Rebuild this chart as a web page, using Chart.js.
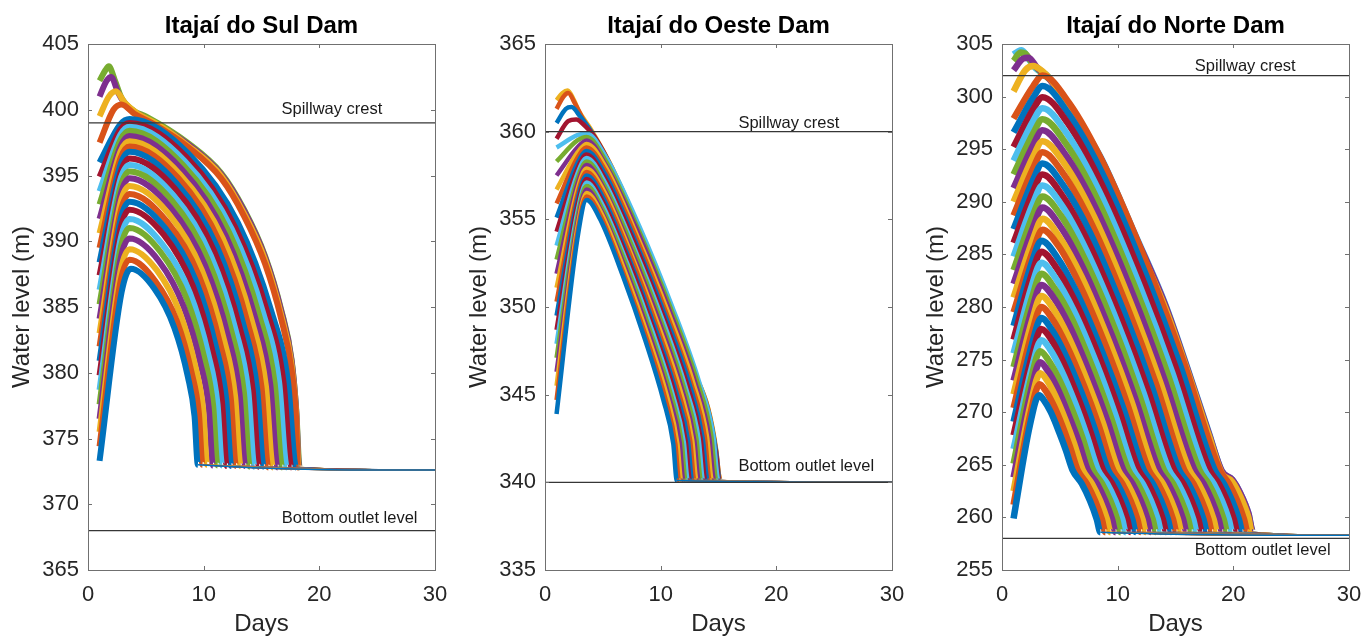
<!DOCTYPE html>
<html lang="en">
<head>
<meta charset="UTF-8">
<title>Dam water levels</title>
<script src="https://cdn.jsdelivr.net/npm/chart.js"></script>
<style>
  body { margin: 0; background: #fff; width: 1363px; height: 639px; overflow: hidden; position: relative; }
  canvas { position: absolute; top: 0; }
</style>
</head>
<body>
<canvas id="sulChart" width="460" height="639" style="left:0px"></canvas>
<canvas id="oesteChart" width="460" height="639" style="left:457px"></canvas>
<canvas id="norteChart" width="460" height="639" style="left:914px"></canvas>
<script>
// each run is a list of [day, water level (m)]
const sulRuns = [
  [[1,373.3],[2.9,386.1],[3.7,387.9],[5.73,386.4],[7.47,383.4],[8.63,379.7],[9.21,376.7],[9.5,373.0],[30,372.6]],
  [[1,374.4],[2.8,386.9],[3.6,388.6],[5.8,387.0],[7.7,383.9],[8.96,380.0],[9.59,376.9],[9.9,373.0],[30,372.6]],
  [[1,375.5],[2.8,387.7],[3.6,389.4],[5.95,387.8],[7.96,384.5],[9.3,380.4],[9.97,377.1],[10.3,373.0],[30,372.6]],
  [[1,376.5],[2.8,388.6],[3.6,390.2],[6.12,388.5],[8.28,385.0],[9.72,380.7],[10.44,377.3],[10.8,372.95],[30,372.6]],
  [[1,377.6],[2.8,389.4],[3.6,391.0],[6.26,389.2],[8.54,385.6],[10.06,381.1],[10.82,377.5],[11.2,372.95],[30,372.6]],
  [[1,378.7],[2.8,390.1],[3.6,391.7],[6.4,389.8],[8.8,386.1],[10.4,381.4],[11.2,377.6],[11.6,372.95],[30,372.6]],
  [[1,379.8],[2.8,390.9],[3.6,392.4],[6.54,390.5],[9.06,386.6],[10.74,381.7],[11.58,377.8],[12.0,372.9],[30,372.6]],
  [[1,380.9],[2.8,391.6],[3.6,393.0],[6.68,391.0],[9.32,387.0],[11.08,381.9],[11.96,377.9],[12.4,372.9],[30,372.6]],
  [[1,382.0],[2.8,392.2],[3.6,393.6],[6.82,391.5],[9.58,387.4],[11.42,382.2],[12.34,378.1],[12.8,372.9],[30,372.6]],
  [[1,383.0],[2.8,392.9],[3.6,394.2],[6.96,392.1],[9.84,387.8],[11.76,382.5],[12.72,378.2],[13.2,372.9],[30,372.6]],
  [[1,384.1],[2.8,393.5],[3.6,394.8],[7.1,392.6],[10.1,388.2],[12.1,382.8],[13.1,378.4],[13.6,372.9],[30,372.6]],
  [[1,385.2],[2.8,394.1],[3.6,395.3],[7.24,393.1],[10.36,388.6],[12.44,383.0],[13.48,378.5],[14.0,372.85],[30,372.6]],
  [[1,386.3],[2.8,394.7],[3.6,395.8],[7.38,393.5],[10.62,388.9],[12.78,383.2],[13.86,378.6],[14.4,372.85],[30,372.6]],
  [[1,387.4],[2.8,395.2],[3.6,396.3],[7.52,394.0],[10.88,389.3],[13.12,383.4],[14.24,378.7],[14.8,372.85],[30,372.6]],
  [[1,388.4],[2.8,395.8],[3.6,396.8],[7.66,394.4],[11.14,389.6],[13.46,383.6],[14.62,378.8],[15.2,372.85],[30,372.6]],
  [[1,389.5],[2.8,396.3],[3.6,397.2],[7.8,394.8],[11.4,389.9],[13.8,383.8],[15.0,378.9],[15.6,372.8],[30,372.6]],
  [[1,390.6],[2.8,396.8],[3.6,397.6],[7.94,395.1],[11.66,390.2],[14.14,384.0],[15.38,379.0],[16.0,372.8],[30,372.6]],
  [[1,391.7],[2.8,397.2],[3.6,398.0],[8.08,395.5],[11.92,390.4],[14.48,384.1],[15.76,379.1],[16.4,372.8],[30,372.6]],
  [[1,392.8],[2.8,397.7],[3.6,398.4],[8.22,395.8],[12.18,390.7],[14.82,384.3],[16.14,379.2],[16.8,372.8],[30,372.6]],
  [[1,393.8],[2.8,398.1],[3.6,398.7],[8.36,396.1],[12.44,390.9],[15.16,384.5],[16.52,379.3],[17.2,372.8],[30,372.6]],
  [[1,394.9],[2.8,398.5],[3.6,399.0],[8.5,396.4],[12.7,391.1],[15.5,384.6],[16.9,379.3],[17.6,372.8],[30,372.6]],
  [[1,396.0],[2.8,398.9],[3.6,399.3],[8.64,396.7],[12.96,391.4],[15.84,384.7],[17.28,379.4],[18.0,372.8],[30,372.6]],
  [[1,397.5],[2.2,400.0],[2.9,400.4],[4,399.7],[5.5,399.0],[8.6,397.2],[11.5,394.8],[13.5,391.9],[15.3,388.3],[16.7,384.1],[17.6,380.2],[18.0,376.4],[18.15,372.8],[30,372.6]],
  [[1,399.5],[1.8,401.0],[2.4,401.4],[3.2,400.5],[4.3,399.7],[5.8,399.0],[8.6,397.3],[11.5,395.0],[13.5,392.1],[15.3,388.6],[16.7,384.4],[17.6,380.6],[18.0,376.8],[18.2,372.8],[30,372.6]],
  [[1,401.0],[1.6,402.2],[2.0,402.5],[2.6,401.3],[3.4,400.2],[4.5,399.6],[8.6,397.4],[11.5,395.1],[13.5,392.3],[15.3,388.8],[16.7,384.7],[17.6,380.9],[18.0,377.1],[18.25,372.8],[30,372.6]],
  [[1,402.2],[1.5,403.0],[1.8,403.3],[2.3,402.3],[2.9,400.9],[4.0,399.9],[5.0,399.5],[8.6,397.5],[11.5,395.2],[13.5,392.4],[15.3,388.9],[16.7,384.8],[17.6,381.0],[18.0,377.2],[18.3,372.8],[30,372.6]]
];

const oesteRuns = [
  [[1,343.9],[2.8,353.9],[3.6,356.1],[4.77,355.0],[6.72,351.8],[8.67,348.1],[10.23,344.7],[11.09,342.2],[11.4,340.1],[30,340.0]],
  [[1,344.7],[2.8,354.2],[3.6,356.3],[4.8,355.2],[6.8,351.9],[8.79,348.2],[10.39,344.8],[11.27,342.2],[11.59,340.1],[30,340.0]],
  [[1,345.5],[2.8,354.5],[3.6,356.5],[4.83,355.4],[6.87,352.1],[8.92,348.3],[10.55,344.9],[11.45,342.2],[11.78,340.1],[30,340.0]],
  [[1,346.3],[2.8,354.8],[3.6,356.7],[4.86,355.5],[6.95,352.2],[9.04,348.4],[10.71,344.9],[11.64,342.3],[11.97,340.1],[30,340.0]],
  [[1,347.1],[2.8,355.1],[3.6,356.9],[4.88,355.7],[7.02,352.4],[9.16,348.5],[10.88,345.0],[11.82,342.3],[12.16,340.1],[30,340.0]],
  [[1,347.9],[2.8,355.4],[3.6,357.1],[4.91,355.9],[7.1,352.5],[9.29,348.6],[11.04,345.0],[12.0,342.3],[12.35,340.1],[30,340.0]],
  [[1,348.7],[2.8,355.8],[3.6,357.3],[4.94,356.1],[7.18,352.7],[9.41,348.7],[11.2,345.1],[12.18,342.3],[12.54,340.1],[30,340.0]],
  [[1,349.5],[2.8,356.1],[3.6,357.5],[4.97,356.3],[7.25,352.8],[9.53,348.8],[11.36,345.1],[12.36,342.4],[12.73,340.1],[30,340.0]],
  [[1,350.3],[2.8,356.4],[3.6,357.7],[5.0,356.5],[7.33,353.0],[9.66,348.9],[11.52,345.2],[12.55,342.4],[12.92,340.1],[30,340.0]],
  [[1,351.1],[2.8,356.7],[3.6,357.9],[5.03,356.7],[7.4,353.1],[9.78,349.0],[11.68,345.3],[12.73,342.4],[13.11,340.1],[30,340.0]],
  [[1,351.9],[2.8,357.0],[3.6,358.1],[5.06,356.8],[7.48,353.2],[9.91,349.1],[11.85,345.3],[12.91,342.4],[13.3,340.1],[30,340.0]],
  [[1,352.7],[2.8,357.3],[3.6,358.3],[5.08,357.0],[7.56,353.4],[10.03,349.2],[12.01,345.4],[13.09,342.5],[13.49,340.1],[30,340.0]],
  [[1,353.5],[2.8,357.6],[3.6,358.5],[5.11,357.2],[7.63,353.5],[10.15,349.3],[12.17,345.4],[13.28,342.5],[13.68,340.1],[30,340.0]],
  [[1,354.3],[2.8,357.9],[3.6,358.7],[5.14,357.4],[7.71,353.7],[10.28,349.4],[12.33,345.5],[13.46,342.5],[13.87,340.1],[30,340.0]],
  [[1,355.1],[2.8,358.2],[3.6,358.9],[5.17,357.6],[7.78,353.8],[10.4,349.5],[12.49,345.6],[13.64,342.5],[14.06,340.1],[30,340.0]],
  [[1,355.9],[2.8,358.5],[3.6,359.1],[5.2,357.8],[7.86,354.0],[10.52,349.6],[12.65,345.6],[13.82,342.6],[14.25,340.1],[30,340.0]],
  [[1,356.7],[2.8,358.8],[3.6,359.3],[5.23,358.0],[7.94,354.1],[10.65,349.7],[12.81,345.7],[14.01,342.6],[14.44,340.1],[30,340.0]],
  [[1,357.5],[2.8,359.1],[3.6,359.5],[5.25,358.1],[8.01,354.3],[10.77,349.8],[12.98,345.7],[14.19,342.6],[14.63,340.1],[30,340.0]],
  [[1,358.3],[2.8,359.5],[3.6,359.7],[5.28,358.3],[8.09,354.4],[10.89,349.9],[13.14,345.8],[14.37,342.7],[14.82,340.1],[30,340.0]],
  [[1,359.1],[2.8,359.8],[3.6,359.9],[5.31,358.5],[8.16,354.6],[11.01,350.0],[13.29,345.8],[14.54,342.7],[15.0,340.1],[30,340.0]],
  [[1,359.6],[2.0,360.6],[2.7,360.7],[3.5,360.3],[4.3,359.7],[5.8,357.9],[7.5,355.2],[9.2,352.2],[10.95,349.2],[12.7,346.2],[14.1,343.8],[14.8,341.5],[15.05,340.1],[30,340.0]],
  [[1,360.5],[1.8,361.3],[2.3,361.4],[3.0,360.9],[4.0,360.0],[5.8,357.8],[7.5,355.3],[9.2,352.3],[10.95,349.3],[12.7,346.4],[14.1,344.1],[14.8,341.7],[15.1,340.1],[30,340.0]],
  [[1,361.3],[1.6,362.0],[2.0,362.2],[2.6,361.6],[3.3,360.7],[4.1,359.9],[5.8,357.9],[7.5,355.4],[9.2,352.4],[10.95,349.4],[12.7,346.5],[14.1,344.2],[14.8,341.8],[15.15,340.1],[30,340.0]],
  [[1,361.8],[1.5,362.2],[1.95,362.35],[2.5,361.8],[2.9,361.2],[4.0,360.1],[5.8,357.95],[7.5,355.45],[9.2,352.45],[10.95,349.45],[12.7,346.55],[14.1,344.25],[14.8,341.85],[15.0,340.6],[15.2,340.1],[30,340.0]]
];

const norteRuns = [
  [[1,259.9],[2.4,268.7],[3.2,271.6],[3.64,271.1],[4.22,270.0],[4.94,268.1],[5.52,266.4],[6.1,264.5],[6.9,263.2],[7.6,261.6],[8.2,259.8],[8.5,258.6],[30,258.3]],
  [[1,261.2],[2.45,269.8],[3.25,272.65],[3.74,272.1],[4.4,270.8],[5.22,268.7],[5.88,266.7],[6.54,264.5],[7.34,263.2],[8.04,261.6],[8.64,259.8],[8.94,258.6],[30,258.3]],
  [[1,262.5],[2.5,270.9],[3.3,273.7],[3.85,273.1],[4.59,271.6],[5.51,269.2],[6.24,267.0],[6.98,264.5],[7.78,263.2],[8.48,261.6],[9.08,259.8],[9.38,258.6],[30,258.3]],
  [[1,263.8],[2.5,272.0],[3.3,274.75],[3.92,274.0],[4.74,272.4],[5.77,269.7],[6.6,267.3],[7.42,264.5],[8.22,263.2],[8.92,261.6],[9.52,259.8],[9.82,258.6],[30,258.3]],
  [[1,265.1],[2.5,273.1],[3.3,275.8],[3.98,275.0],[4.9,273.2],[6.04,270.3],[6.95,267.6],[7.86,264.5],[8.66,263.2],[9.36,261.6],[9.96,259.8],[10.26,258.6],[30,258.3]],
  [[1,266.5],[2.6,274.3],[3.4,276.85],[4.14,276.0],[5.12,274.0],[6.34,270.8],[7.32,267.8],[8.3,264.5],[9.1,263.2],[9.8,261.6],[10.4,259.8],[10.7,258.6],[30,258.3]],
  [[1,267.8],[2.6,275.4],[3.4,277.9],[4.2,277.0],[5.27,274.8],[6.6,271.3],[7.66,268.1],[8.73,264.5],[9.53,263.2],[10.23,261.6],[10.83,259.8],[11.13,258.6],[30,258.3]],
  [[1,269.1],[2.6,276.5],[3.4,278.95],[4.27,277.9],[5.42,275.6],[6.86,271.9],[8.02,268.4],[9.17,264.5],[9.97,263.2],[10.67,261.6],[11.27,259.8],[11.57,258.6],[30,258.3]],
  [[1,270.4],[2.6,277.6],[3.4,280.0],[4.33,278.9],[5.57,276.4],[7.13,272.4],[8.37,268.7],[9.61,264.5],[10.41,263.2],[11.11,261.6],[11.71,259.8],[12.01,258.6],[30,258.3]],
  [[1,271.7],[2.6,278.7],[3.4,281.05],[4.4,279.9],[5.73,277.2],[7.39,272.9],[8.72,269.0],[10.05,264.5],[10.85,263.2],[11.55,261.6],[12.15,259.8],[12.45,258.6],[30,258.3]],
  [[1,273.0],[2.6,279.8],[3.4,282.1],[4.46,280.9],[5.88,278.1],[7.65,273.5],[9.07,269.3],[10.49,264.5],[11.29,263.2],[11.99,261.6],[12.59,259.8],[12.89,258.6],[30,258.3]],
  [[1,274.3],[2.6,280.9],[3.4,283.15],[4.53,281.8],[6.04,278.9],[7.92,274.0],[9.42,269.5],[10.93,264.5],[11.73,263.2],[12.43,261.6],[13.03,259.8],[13.33,258.6],[30,258.3]],
  [[1,275.6],[2.6,282.1],[3.4,284.2],[4.6,282.8],[6.19,279.7],[8.18,274.6],[9.78,269.8],[11.37,264.5],[12.17,263.2],[12.87,261.6],[13.47,259.8],[13.77,258.6],[30,258.3]],
  [[1,276.9],[2.6,283.2],[3.4,285.25],[4.66,283.8],[6.34,280.5],[8.45,275.1],[10.13,270.1],[11.81,264.5],[12.61,263.2],[13.31,261.6],[13.91,259.8],[14.21,258.6],[30,258.3]],
  [[1,278.2],[2.6,284.3],[3.4,286.3],[4.73,284.8],[6.5,281.3],[8.71,275.6],[10.48,270.4],[12.25,264.5],[13.05,263.2],[13.75,261.6],[14.35,259.8],[14.65,258.6],[30,258.3]],
  [[1,279.5],[2.7,285.4],[3.5,287.35],[4.88,285.8],[6.72,282.1],[9.01,276.2],[10.85,270.7],[12.69,264.5],[13.49,263.2],[14.19,261.6],[14.79,259.8],[15.09,258.6],[30,258.3]],
  [[1,280.9],[2.7,286.5],[3.5,288.4],[4.94,286.7],[6.87,282.9],[9.27,276.7],[11.2,271.0],[13.12,264.5],[13.92,263.2],[14.62,261.6],[15.22,259.8],[15.52,258.6],[30,258.3]],
  [[1,282.2],[2.7,287.6],[3.5,289.45],[5.01,287.7],[7.02,283.7],[9.54,277.2],[11.55,271.2],[13.56,264.5],[14.36,263.2],[15.06,261.6],[15.66,259.8],[15.96,258.6],[30,258.3]],
  [[1,283.5],[2.7,288.8],[3.5,290.5],[5.08,288.7],[7.18,284.5],[9.8,277.8],[11.9,271.5],[14.0,264.5],[14.8,263.2],[15.5,261.6],[16.1,259.8],[16.4,258.6],[30,258.3]],
  [[1,284.8],[2.7,289.9],[3.5,291.55],[5.14,289.7],[7.33,285.3],[10.06,278.3],[12.25,271.8],[14.44,264.5],[15.24,263.2],[15.94,261.6],[16.54,259.8],[16.84,258.6],[30,258.3]],
  [[1,286.1],[2.7,291.0],[3.5,292.6],[5.21,290.6],[7.48,286.1],[10.33,278.8],[12.6,272.1],[14.88,264.5],[15.68,263.2],[16.38,261.6],[16.98,259.8],[17.28,258.6],[30,258.3]],
  [[1,287.4],[2.7,292.1],[3.5,293.65],[5.27,291.6],[7.64,287.0],[10.59,279.4],[12.96,272.4],[15.32,264.5],[16.12,263.2],[16.82,261.6],[17.42,259.8],[17.72,258.6],[30,258.3]],
  [[1,288.7],[2.7,293.2],[3.5,294.7],[5.34,292.6],[7.79,287.8],[10.86,279.9],[13.31,272.7],[15.76,264.5],[16.56,263.2],[17.26,261.6],[17.86,259.8],[18.16,258.6],[30,258.3]],
  [[1,290.0],[2.7,294.3],[3.5,295.75],[5.41,293.6],[7.95,288.6],[11.12,280.4],[13.66,272.9],[16.2,264.5],[17.0,263.2],[17.7,261.6],[18.3,259.8],[18.6,258.6],[30,258.3]],
  [[1,291.3],[2.7,295.4],[3.5,296.8],[5.47,294.5],[8.1,289.4],[11.38,281.0],[14.01,273.2],[16.64,264.5],[17.44,263.2],[18.14,261.6],[18.74,259.8],[19.04,258.6],[30,258.3]],
  [[1,292.6],[2.7,296.5],[3.5,297.85],[5.54,295.5],[8.25,290.2],[11.64,281.5],[14.36,273.5],[17.07,264.5],[17.87,263.2],[18.57,261.6],[19.17,259.8],[19.47,258.6],[30,258.3]],
  [[1,293.9],[2.7,297.7],[3.5,298.9],[5.6,296.5],[8.4,291.0],[11.91,282.0],[14.71,273.8],[17.51,264.5],[18.31,263.2],[19.01,261.6],[19.61,259.8],[19.91,258.6],[30,258.3]],
  [[1,295.2],[2.7,298.8],[3.5,299.95],[5.67,297.5],[8.56,291.8],[12.17,282.6],[15.06,274.1],[17.95,264.5],[18.75,263.2],[19.45,261.6],[20.05,259.8],[20.35,258.6],[30,258.3]],
  [[1,296.6],[2.7,299.9],[3.5,301.0],[5.73,298.4],[8.71,292.6],[12.43,283.1],[15.41,274.4],[18.39,264.5],[19.19,263.2],[19.89,261.6],[20.49,259.8],[20.79,258.6],[30,258.3]],
  [[1,297.9],[2.7,301.0],[3.5,302.0],[5.8,299.4],[8.87,293.4],[12.7,283.6],[15.76,274.6],[18.83,264.5],[19.63,263.2],[20.33,261.6],[20.93,259.8],[21.23,258.6],[30,258.3]],
  [[1,300.5],[2.0,302.5],[2.7,302.9],[3.5,302.4],[4.3,301.5],[5.8,299.2],[8.5,294.0],[11.3,287.0],[14.1,279.9],[16.0,274.0],[17.9,267.7],[19.0,264.2],[19.9,263.4],[20.6,262.0],[21.3,260.0],[21.6,258.6],[30,258.3]],
  [[1,302.5],[1.8,303.6],[2.3,303.7],[3.0,302.8],[4.0,301.8],[5.8,298.9],[8.5,294.2],[11.3,287.3],[14.1,280.2],[16.0,274.2],[17.9,267.9],[19.0,264.4],[19.9,263.6],[20.6,262.3],[21.3,260.4],[21.7,258.6],[30,258.3]],
  [[1,303.4],[1.6,304.2],[2.0,304.1],[2.6,303.2],[3.3,302.4],[4.5,301.2],[5.8,299.0],[8.5,294.1],[11.3,287.2],[14.1,280.1],[16.0,274.1],[17.9,267.8],[19.0,264.3],[19.9,263.5],[20.6,262.1],[21.3,260.2],[21.65,258.6],[30,258.3]],
  [[1,304.0],[1.4,304.3],[1.7,304.4],[2.3,303.6],[2.9,302.7],[4.0,301.9],[5.8,298.9],[8.5,294.3],[11.3,287.4],[14.1,280.3],[16.0,274.3],[17.9,268.0],[19.0,264.4],[19.9,263.6],[20.6,262.3],[21.3,260.4],[21.7,258.6],[30,258.3]]
];

// axis ranges and reference levels
const dayRange = [0, 30];
const sulRange = [365, 405];
const oesteRange = [335, 365];
const norteRange = [255, 305];
const sulSpillway = 399, sulBottom = 368;
const oesteSpillway = 360, oesteBottom = 340;
const norteSpillway = 302, norteBottom = 258;

// MATLAB default line colours
const lineColors = ['#0072BD', '#D95319', '#EDB120', '#7E2F8E', '#77AC30', '#4DBEEE', '#A2142F'];

Chart.defaults.font.family = '"Liberation Sans", Arial, Helvetica, sans-serif';

// box, inward ticks and the two level labels
function framePlugin(notes) {
    return {
        id: 'frame',
        afterDraw(chart) {
            const ctx = chart.ctx;
            const a = chart.chartArea;
            const x = chart.scales.x, y = chart.scales.y;
            ctx.save();
            ctx.strokeStyle = '#707070';
            ctx.lineWidth = 1;
            ctx.strokeRect(Math.round(a.left) + 0.5, Math.round(a.top) + 0.5,
                Math.round(a.right - a.left), Math.round(a.bottom - a.top));
            ctx.beginPath();
            x.ticks.forEach(t => {
                const px = Math.round(x.getPixelForValue(t.value)) + 0.5;
                ctx.moveTo(px, a.bottom); ctx.lineTo(px, a.bottom - 4);
                ctx.moveTo(px, a.top); ctx.lineTo(px, a.top + 4);
            });
            y.ticks.forEach(t => {
                const py = Math.round(y.getPixelForValue(t.value)) + 0.5;
                ctx.moveTo(a.left, py); ctx.lineTo(a.left + 4, py);
                ctx.moveTo(a.right, py); ctx.lineTo(a.right - 4, py);
            });
            ctx.stroke();

            ctx.fillStyle = '#1a1a1a';
            ctx.font = '16.5px "Liberation Sans", Arial, sans-serif';
            ctx.textAlign = 'left';
            ctx.textBaseline = 'middle';
            notes.forEach(n => {
                ctx.fillText(n.text, x.getPixelForValue(n.day), y.getPixelForValue(n.level));
            });
            ctx.restore();
        }
    };
}

function createChart(elementId, title, runs, range, spillway, bottom, notes, lineWidth) {
    const refLines = [spillway, bottom].map(level => ({
        data: [[dayRange[0], level], [dayRange[1], level]],
        borderColor: '#363636',
        borderWidth: 1.3,
        tension: 0
    }));
    const runLines = runs.map((run, i) => ({
        data: run,
        borderColor: lineColors[i % lineColors.length],
        borderWidth: lineWidth,
        cubicInterpolationMode: 'monotone',
        // the long flat tail after the drawdown is drawn thin
        segment: { borderWidth: c => c.p1DataIndex === run.length - 1 ? 1.5 : undefined }
    }));

    new Chart(document.getElementById(elementId), {
        type: 'line',
        data: { datasets: refLines.concat(runLines) },
        options: {
            responsive: false,
            animation: false,
            events: [],
            layout: { padding: { left: 0, right: 25, top: 0, bottom: 0 } },
            elements: { point: { radius: 0 }, line: { fill: false } },
            plugins: {
                legend: { display: false },
                tooltip: { enabled: false },
                title: {
                    display: true,
                    text: title,
                    fullSize: false,
                    color: '#000',
                    font: { size: 24, weight: 'bold' },
                    padding: { top: 11.6, bottom: 3.6 }
                }
            },
            scales: {
                x: {
                    type: 'linear',
                    min: dayRange[0],
                    max: dayRange[1],
                    afterFit: s => { s.height = 69; },
                    ticks: { stepSize: 10, padding: 12, color: '#262626', font: { size: 22 }, maxRotation: 0 },
                    grid: { display: false, drawTicks: false },
                    border: { display: false },
                    title: { display: true, text: 'Days', color: '#262626', font: { size: 24 }, padding: { top: 0, bottom: 0 } }
                },
                y: {
                    min: range[0],
                    max: range[1],
                    afterFit: s => { s.width = 88; },
                    ticks: { stepSize: 5, padding: 9, color: '#262626', font: { size: 22 } },
                    grid: { display: false, drawTicks: false },
                    border: { display: false },
                    title: { display: true, text: 'Water level (m)', color: '#262626', font: { size: 24 }, padding: { top: 8.1, bottom: 0 } }
                }
            }
        },
        plugins: [framePlugin(notes)]
    });
}

createChart('sulChart', 'Itajaí do Sul Dam', sulRuns, sulRange, sulSpillway, sulBottom, [
    { text: 'Spillway crest', day: 16.73, level: 400.0 },
    { text: 'Bottom outlet level', day: 16.75, level: 368.9 }
], 6);

createChart('oesteChart', 'Itajaí do Oeste Dam', oesteRuns, oesteRange, oesteSpillway, oesteBottom, [
    { text: 'Spillway crest', day: 16.72, level: 360.44 },
    { text: 'Bottom outlet level', day: 16.72, level: 340.89 }
], 4.5);

createChart('norteChart', 'Itajaí do Norte Dam', norteRuns, norteRange, norteSpillway, norteBottom, [
    { text: 'Spillway crest', day: 16.67, level: 302.9 },
    { text: 'Bottom outlet level', day: 16.67, level: 256.83 }
], 6.5);
</script>
</body>
</html>
